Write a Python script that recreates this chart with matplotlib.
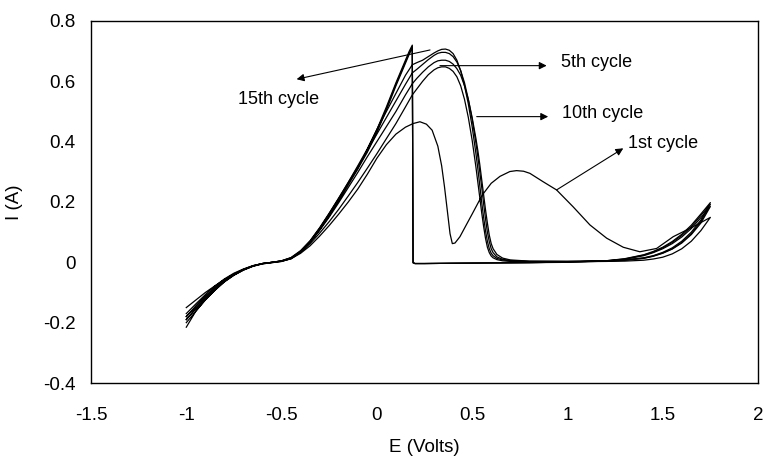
import matplotlib
matplotlib.use("Agg")
import matplotlib.pyplot as plt

plt.rcParams['font.family'] = ['Liberation Sans', 'DejaVu Sans']

# ---------------- data ----------------
# shared potential grid of the anodic (forward) sweep, cycles 5/10/15
E_fwd = [-1.0, -0.95, -0.9, -0.85, -0.8, -0.75, -0.7, -0.65, -0.6, -0.55,
         -0.5, -0.45, -0.4, -0.35, -0.3, -0.25, -0.2, -0.15, -0.1, -0.05,
         0.0, 0.05, 0.1, 0.15, 0.17, 0.186, 0.19, 0.2, 0.25, 0.4,
         0.6, 0.8, 1.0, 1.2, 1.3, 1.4, 1.45, 1.5, 1.55, 1.6,
         1.65, 1.7, 1.75]
I_fwd_5 = [-0.18, -0.146, -0.114, -0.086, -0.06, -0.04, -0.024, -0.012, -0.004, 0.0,
           0.004, 0.012, 0.033, 0.066, 0.108, 0.155, 0.205, 0.257, 0.31, 0.365,
           0.43, 0.505, 0.585, 0.66, 0.69, 0.71, 0.0, -0.004, -0.004, -0.003,
           -0.002, -0.001, 0.0, 0.004, 0.01, 0.022, 0.032, 0.045, 0.062, 0.084,
           0.112, 0.148, 0.185]
I_fwd_10 = [-0.19, -0.155, -0.12, -0.09, -0.063, -0.042, -0.025, -0.013, -0.005, -0.001,
            0.003, 0.012, 0.034, 0.068, 0.11, 0.158, 0.208, 0.26, 0.314, 0.37,
            0.435, 0.51, 0.59, 0.665, 0.695, 0.715, -0.001, -0.004, -0.004, -0.003,
            -0.002, -0.001, 0.001, 0.005, 0.011, 0.024, 0.034, 0.048, 0.066, 0.089,
            0.118, 0.155, 0.192]
I_fwd_15 = [-0.2, -0.162, -0.125, -0.093, -0.065, -0.043, -0.026, -0.013, -0.005, -0.001,
            0.003, 0.013, 0.036, 0.07, 0.113, 0.162, 0.213, 0.265, 0.32, 0.376,
            0.44, 0.515, 0.595, 0.67, 0.7, 0.72, -0.002, -0.004, -0.004, -0.003,
            -0.002, -0.001, 0.001, 0.005, 0.012, 0.025, 0.036, 0.05, 0.069, 0.093,
            0.123, 0.16, 0.198]

# forward sweep of the 1st cycle
E_fwd_1 = [-1.0, -0.95, -0.9, -0.85, -0.8, -0.75, -0.7, -0.65, -0.6, -0.55,
           -0.5, -0.45, -0.4, -0.35, -0.3, -0.25, -0.2, -0.15, -0.1, -0.05,
           0.0, 0.05, 0.1, 0.15, 0.19, 0.226, 0.26, 0.29, 0.32, 0.34,
           0.355, 0.37, 0.384, 0.396, 0.41, 0.436, 0.47, 0.5, 0.553, 0.6,
           0.646, 0.698, 0.733, 0.77, 0.803, 0.873, 0.943, 1.03, 1.118, 1.206,
           1.293, 1.38, 1.468, 1.555, 1.66, 1.75]
I_fwd_1 = [-0.15, -0.125, -0.1, -0.078, -0.057, -0.039, -0.024, -0.012, -0.004, 0.0,
           0.004, 0.012, 0.03, 0.055, 0.087, 0.122, 0.16, 0.2, 0.243, 0.292,
           0.345, 0.39, 0.425, 0.448, 0.46, 0.466, 0.458, 0.438, 0.385, 0.32,
           0.25, 0.17, 0.095, 0.062, 0.064, 0.085, 0.125, 0.16, 0.223, 0.262,
           0.285, 0.301, 0.304, 0.302, 0.295, 0.267, 0.24, 0.184, 0.124, 0.08,
           0.05, 0.035, 0.046, 0.085, 0.118, 0.149]

# shared potential grid of the cathodic (reverse) sweep
E_rev = [1.75, 1.7, 1.65, 1.6, 1.55, 1.5, 1.45, 1.4, 1.3, 1.2,
         1.0, 0.8, 0.7, 0.66, 0.63, 0.61, 0.6, 0.59, 0.58, 0.57,
         0.56, 0.55, 0.54, 0.53, 0.52, 0.5, 0.48, 0.46, 0.44, 0.42,
         0.4, 0.38, 0.36, 0.34, 0.32, 0.3, 0.27, 0.24, 0.21, 0.186,
         0.15, 0.1, 0.05, 0.0, -0.05, -0.1, -0.15, -0.2, -0.25, -0.3,
         -0.35, -0.4, -0.45, -0.5, -0.55, -0.6, -0.65, -0.7, -0.75, -0.8,
         -0.85, -0.9, -0.95, -1.0]
I_rev_1 = [0.149, 0.105, 0.07, 0.045, 0.028, 0.017, 0.011, 0.007, 0.004, 0.003,
           0.002, 0.002, 0.003, 0.005, 0.009, 0.015, 0.021, 0.032, 0.05, 0.08,
           0.12, 0.165, 0.215, 0.265, 0.315, 0.405, 0.48, 0.54, 0.585, 0.615,
           0.633, 0.643, 0.648, 0.648, 0.645, 0.638, 0.622, 0.6, 0.575, 0.555,
           0.515, 0.46, 0.41, 0.36, 0.312, 0.265, 0.22, 0.176, 0.135, 0.097,
           0.062, 0.034, 0.014, 0.004, 0.0, -0.004, -0.011, -0.022, -0.036, -0.055,
           -0.079, -0.107, -0.138, -0.17]
I_rev_5 = [0.185, 0.13, 0.092, 0.064, 0.044, 0.03, 0.02, 0.013, 0.007, 0.004,
           0.003, 0.004, 0.008, 0.014, 0.026, 0.045, 0.062, 0.09, 0.13, 0.175,
           0.225, 0.275, 0.325, 0.37, 0.41, 0.48, 0.54, 0.585, 0.62, 0.642,
           0.657, 0.666, 0.67, 0.67, 0.668, 0.662, 0.648, 0.63, 0.61, 0.592,
           0.555, 0.5, 0.45, 0.4, 0.35, 0.298, 0.248, 0.198, 0.15, 0.106,
           0.067, 0.036, 0.015, 0.005, 0.0, -0.004, -0.011, -0.023, -0.038, -0.058,
           -0.083, -0.112, -0.145, -0.18]
I_rev_10 = [0.192, 0.135, 0.095, 0.066, 0.045, 0.031, 0.021, 0.014, 0.007, 0.004,
            0.003, 0.003, 0.006, 0.01, 0.018, 0.032, 0.045, 0.068, 0.1, 0.145,
            0.195, 0.25, 0.3, 0.35, 0.395, 0.475, 0.54, 0.595, 0.635, 0.664,
            0.682, 0.692, 0.696, 0.696, 0.693, 0.686, 0.672, 0.656, 0.64, 0.628,
            0.59, 0.535, 0.48, 0.425, 0.37, 0.317, 0.265, 0.213, 0.163, 0.115,
            0.072, 0.039, 0.016, 0.005, 0.0, -0.004, -0.012, -0.024, -0.04, -0.062,
            -0.088, -0.118, -0.152, -0.19]
I_rev_15 = [0.198, 0.14, 0.1, 0.07, 0.048, 0.033, 0.022, 0.015, 0.008, 0.005,
            0.003, 0.003, 0.005, 0.008, 0.013, 0.022, 0.03, 0.045, 0.07, 0.105,
            0.15, 0.2, 0.255, 0.31, 0.36, 0.45, 0.525, 0.585, 0.635, 0.67,
            0.692, 0.703, 0.707, 0.706, 0.701, 0.694, 0.682, 0.67, 0.662, 0.655,
            0.62, 0.56, 0.5, 0.44, 0.375, 0.31, 0.26, 0.21, 0.16, 0.113,
            0.07, 0.037, 0.015, 0.005, 0.0, -0.004, -0.012, -0.025, -0.042, -0.064,
            -0.092, -0.124, -0.162, -0.215]

cycles = {
    '1st': (E_fwd_1, I_fwd_1, E_rev, I_rev_1),
    '5th': (E_fwd, I_fwd_5, E_rev, I_rev_5),
    '10th': (E_fwd, I_fwd_10, E_rev, I_rev_10),
    '15th': (E_fwd, I_fwd_15, E_rev, I_rev_15),
}

x_ticks = [-1.5, -1, -0.5, 0, 0.5, 1, 1.5, 2]
x_tick_labels = ['-1.5', '-1', '-0.5', '0', '0.5', '1', '1.5', '2']
y_ticks = [-0.4, -0.2, 0, 0.2, 0.4, 0.6, 0.8]
y_tick_labels = ['-0.4', '-0.2', '0', '0.2', '0.4', '0.6', '0.8']

# annotation (label, text anchor, arrow tail, arrow head)
labels = ['15th cycle', '5th cycle', '10th cycle', '1st cycle']
label_xy = [(-0.728, 0.541), (0.966, 0.662), (0.969, 0.494), (1.319, 0.394)]
arrow_tail = [(0.279, 0.704), (0.331, 0.652), (0.524, 0.483), (0.943, 0.240)]
arrow_head = [(-0.421, 0.607), (0.891, 0.652), (0.899, 0.483), (1.293, 0.378)]

# ---------------- figure ----------------
fig = plt.figure(figsize=(7.64, 4.63), dpi=100)
ax = fig.add_axes([91 / 764, 1 - 383 / 463, 667 / 764, 362 / 463])

for name, (ef, i_f, er, i_r) in cycles.items():
    assert len(ef) == len(i_f), name
    assert len(er) == len(i_r), name
    ax.plot(list(ef) + list(er), list(i_f) + list(i_r),
            color='black', lw=0.9, solid_joinstyle='round')

for lab, txy, tail, head in zip(labels, label_xy, arrow_tail, arrow_head):
    ax.annotate('', xy=head, xytext=tail,
                arrowprops=dict(arrowstyle='-|>', color='black', lw=0.8,
                                mutation_scale=11, shrinkA=0, shrinkB=0))
    ax.text(txy[0], txy[1], lab, fontsize=13, ha='left', va='center')

ax.set_xlim(-1.5, 2)
ax.set_ylim(-0.4, 0.8)
ax.set_xticks(x_ticks)
ax.set_xticklabels(x_tick_labels)
ax.set_yticks(y_ticks)
ax.set_yticklabels(y_tick_labels)
ax.tick_params(axis='both', length=0, labelsize=13.5)
ax.tick_params(axis='x', pad=17)
ax.tick_params(axis='y', pad=11)
for s in ax.spines.values():
    s.set_linewidth(1.0)
    s.set_color('black')

ax.set_xlabel('E (Volts)', fontsize=13.5)
ax.set_ylabel('I (A)', fontsize=13.5)
ax.xaxis.set_label_coords(0.5, -0.155)
ax.yaxis.set_label_coords(-0.102, 0.5)

fig.savefig('out.png', dpi=100)
